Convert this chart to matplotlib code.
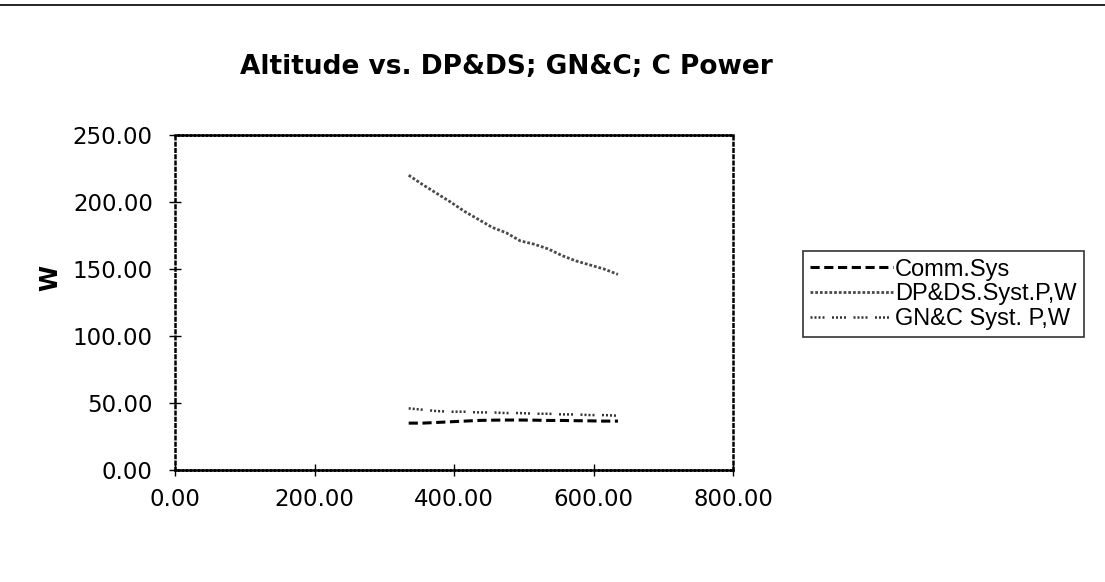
import matplotlib
matplotlib.use("Agg")
import matplotlib.pyplot as plt
from matplotlib.lines import Line2D
from matplotlib.ticker import FuncFormatter

altitude = [335, 355, 375, 395, 415, 435, 455, 475, 495, 515, 535, 555, 575, 595, 615, 635]
dpds_power = [220, 213, 206.5, 200, 193, 187, 181, 177, 171, 168.5, 165, 160, 156, 153, 150, 146]
gnc_power = [46, 45, 44, 43.5, 43.5, 43, 43, 42.5, 42.5, 42, 42, 41.5, 41.5, 41, 41, 40.5]
comm_power = [35, 35, 35.5, 36, 36.5, 37, 37.2, 37.3, 37.3, 37.2, 37, 37, 36.8, 36.7, 36.5, 36.5]

title = "Altitude vs. DP&DS; GN&C; C Power"
ylabel = "W"
series_labels = ["Comm.Sys", "DP&DS.Syst.P,W", "GN&C Syst. P,W"]
xticks = [0, 200, 400, 600, 800]
yticks = [0, 50, 100, 150, 200, 250]

plt.rcParams['font.family'] = ['DejaVu Sans']

fig = plt.figure(figsize=(11.05, 5.82), dpi=100)
ax = fig.add_axes([0.1584, 0.1924, 0.505, 0.5756])

ax.plot(altitude, comm_power, color='black', lw=2.2, linestyle=(0, (3, 1.5)), label=series_labels[0])
ax.plot(altitude, dpds_power, color='#4a4a4a', lw=2.0, linestyle=(0, (1, 0.7)), label=series_labels[1])
ax.plot(altitude, gnc_power, color='#333333', lw=1.8,
        linestyle=(0, (0.8, 0.8, 0.8, 0.8, 0.8, 0.8, 0.8, 3)), label=series_labels[2])

ax.set_xlim(0, 800)
ax.set_ylim(0, 250)
ax.set_xticks(xticks)
ax.set_yticks(yticks)
fmt = FuncFormatter(lambda v, p: f"{v:.2f}")
ax.xaxis.set_major_formatter(fmt)
ax.yaxis.set_major_formatter(fmt)
ax.tick_params(axis='both', direction='inout', length=8, width=1, labelsize=16.5)
ax.tick_params(axis='y', pad=12)
ax.tick_params(axis='x', pad=9)

for side in ['left', 'right']:
    ax.spines[side].set_linestyle((0, (1, 1.5)))
    ax.spines[side].set_linewidth(1.8)
for side in ['top', 'bottom']:
    ax.spines[side].set_linestyle((0, (1, 0.6)))
    ax.spines[side].set_linewidth(1.8)

ax.set_ylabel(ylabel, fontsize=17, fontweight='bold')
ax.yaxis.set_label_coords(-0.2025, 0.573)
fig.text(0.458, 0.885, title, ha='center', va='center', fontsize=19, fontweight='bold')

leg = fig.legend(loc='upper left', bbox_to_anchor=(0.7267, 0.5680),
                 prop={'family': ['Liberation Sans', 'DejaVu Sans'], 'size': 17},
                 frameon=True, fancybox=False, handlelength=3.5, handletextpad=0.1,
                 borderpad=0.3, labelspacing=0.12, borderaxespad=0)
leg.get_frame().set_edgecolor('black')
leg.get_frame().set_linewidth(1.2)

fig.add_artist(Line2D([0, 1], [0.992, 0.992], transform=fig.transFigure, color='black', lw=1.2))

fig.savefig("out.png", dpi=100)
